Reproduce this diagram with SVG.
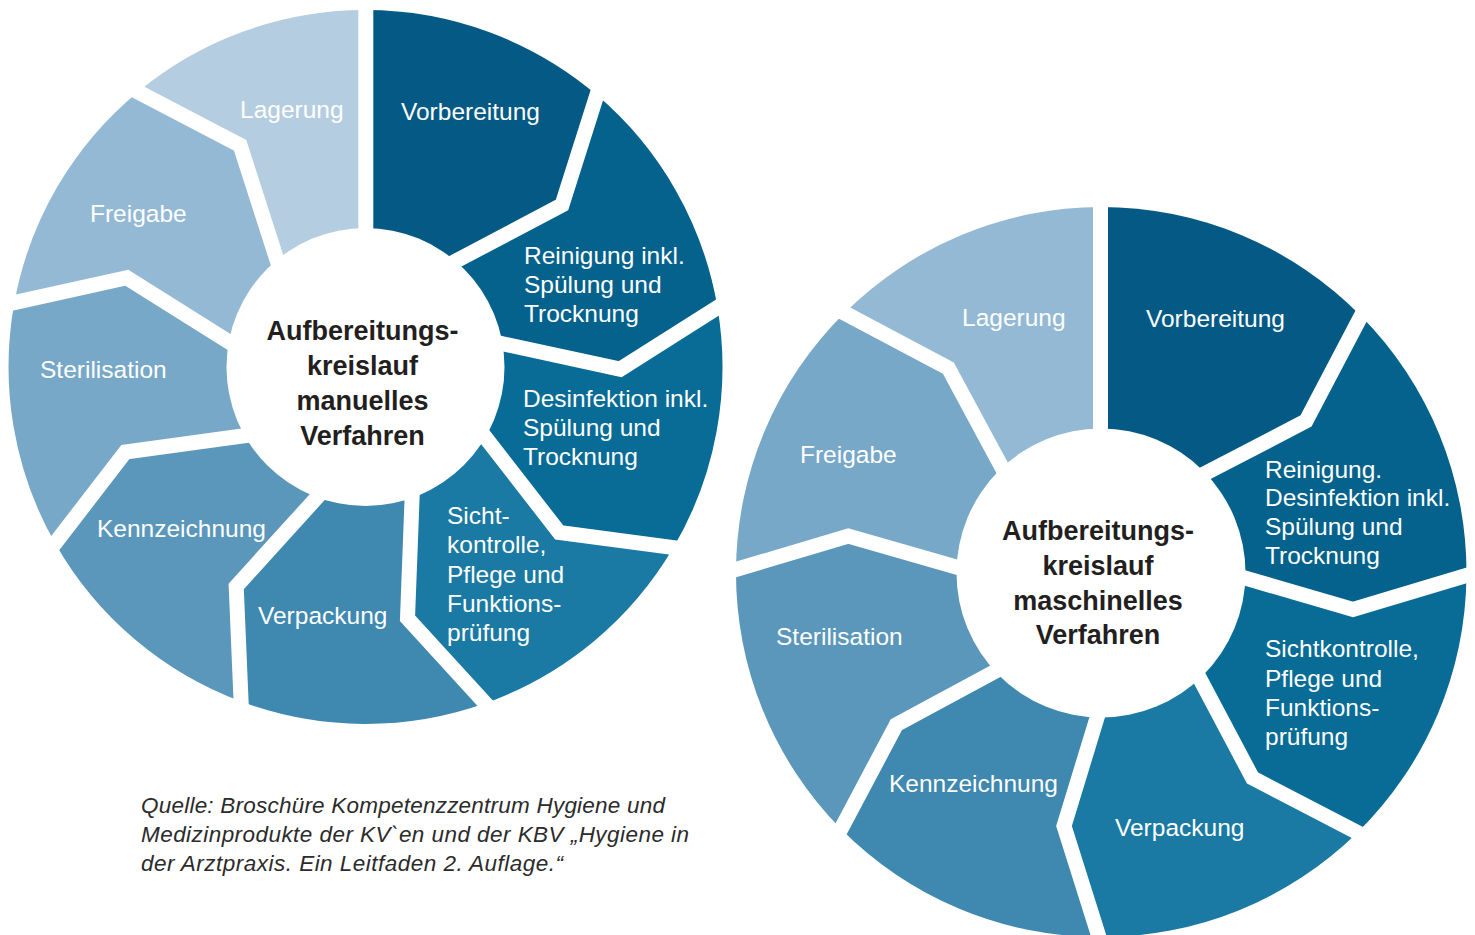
<svg xmlns="http://www.w3.org/2000/svg" width="1475" height="935" viewBox="0 0 1475 935">
<style>
.lbl{font-family:"Liberation Sans",Arial,sans-serif;font-size:24.5px;fill:#ffffff}
.ctr{font-family:"Liberation Sans",Arial,sans-serif;font-size:27px;font-weight:bold;fill:#231f20;text-anchor:middle}
.src{font-family:"Liberation Sans",Arial,sans-serif;font-size:22.5px;font-style:italic;fill:#2b2b2b}
.gap{fill:none;stroke:#ffffff;stroke-width:15;stroke-linejoin:miter;stroke-miterlimit:10}
.c1{fill:#045a84}.c2{fill:#04628c}.c3{fill:#086c96}.c4{fill:#1a7aa3}.c5{fill:#3f88b0}.c6{fill:#5a97bb}.c7{fill:#77a8c8}.c8{fill:#94b9d4}.c9{fill:#b4cde0}
</style>
<rect width="1475" height="935" fill="#ffffff"/>

<g id="wheel-manuell">
  <g id="m-vorbereitung"><path class="c1" d="M365.8,228 L365.8,10 A357,357 0 0 1 596.9,95.1 L562,205 L455.6,261.2 Z"/>
    <text class="lbl" x="401" y="120">Vorbereitung</text></g>
  <g id="m-reinigung"><path class="c2" d="M455.6,261.2 L562,205 L596.9,95.1 A357,357 0 0 1 717.5,307.5 L620.2,369.2 L502.6,343.8 Z"/>
    <text class="lbl" x="524" y="263.5">Reinigung inkl.<tspan x="524" y="292.5">Spülung und</tspan><tspan x="524" y="321.5">Trocknung</tspan></text></g>
  <g id="m-desinfektion"><path class="c3" d="M502.6,343.8 L620.2,369.2 L717.5,307.5 A357,357 0 0 1 673.4,547.6 L559.2,532.4 L485.4,437.3 Z"/>
    <text class="lbl" x="523" y="407">Desinfektion inkl.<tspan x="523" y="436">Spülung und</tspan><tspan x="523" y="465">Trocknung</tspan></text></g>
  <g id="m-sichtkontrolle"><path class="c4" d="M485.4,437.3 L559.2,532.4 L673.4,547.6 A357,357 0 0 1 485.3,703.3 L407.5,618.2 L412.1,498 Z"/>
    <text class="lbl" x="447" y="524">Sicht-<tspan x="447" y="553.3">kontrolle,</tspan><tspan x="447" y="582.6">Pflege und</tspan><tspan x="447" y="611.9">Funktions-</tspan><tspan x="447" y="641.2">prüfung</tspan></text></g>
  <g id="m-verpackung"><path class="c5" d="M412.1,498 L407.5,618.2 L485.3,703.3 A357,357 0 0 1 241.1,701.6 L236.2,586.4 L317,497.3 Z"/>
    <text class="lbl" x="258" y="623.5">Verpackung</text></g>
  <g id="m-kennzeichnung"><path class="c6" d="M317,497.3 L236.2,586.4 L241.1,701.6 A357,357 0 0 1 55.1,543.3 L125.4,452 L244.6,435.7 Z"/>
    <text class="lbl" x="97" y="536.5">Kennzeichnung</text></g>
  <g id="m-sterilisation"><path class="c7" d="M244.6,435.7 L125.4,452 L55.1,543.3 A357,357 0 0 1 14.4,302.6 L126.9,277.8 L228.8,341.9 Z"/>
    <text class="lbl" x="40" y="378">Sterilisation</text></g>
  <g id="m-freigabe"><path class="c8" d="M228.8,341.9 L126.9,277.8 L14.4,302.6 A357,357 0 0 1 137.9,91.9 L240.1,145.3 L276.9,259.9 Z"/>
    <text class="lbl" x="90" y="222">Freigabe</text></g>
  <g id="m-lagerung"><path class="c9" d="M276.9,259.9 L240.1,145.3 L137.9,91.9 A357,357 0 0 1 365.8,10 L365.8,228 Z"/>
    <text class="lbl" x="240" y="118">Lagerung</text></g>
  <g id="m-connectors">
    <polyline class="gap" points="365.8,250 365.8,-5"/>
    <polyline class="gap" points="434.3,272.4 562,205 605.6,67.6"/>
    <polyline class="gap" points="479.1,338.7 620.2,369.2 741.8,292.1"/>
    <polyline class="gap" points="470.6,418.3 559.2,532.4 702,551.4"/>
    <polyline class="gap" points="413,474 407.5,618.2 504.8,724.6"/>
    <polyline class="gap" points="333.2,479.5 236.2,586.4 242.3,730.4"/>
    <polyline class="gap" points="268.4,432.4 125.4,452 37.5,566.1"/>
    <polyline class="gap" points="249.2,354.7 126.9,277.8 -13.7,308.8"/>
    <polyline class="gap" points="284.3,282.8 240.1,145.3 112.3,78.5"/>
  </g>
  <g id="m-center"><circle cx="365.5" cy="367" r="139" fill="#ffffff"/>
    <text class="ctr" x="362.5" y="340">Aufbereitungs-<tspan x="362.5" y="375">kreislauf</tspan><tspan x="362.5" y="409.7">manuelles</tspan><tspan x="362.5" y="444.5">Verfahren</tspan></text></g>
</g>

<g id="wheel-maschinell">
  <g id="r-vorbereitung"><path class="c1" d="M1100.5,429 L1100.5,207 A365,365 0 0 1 1361,316 L1306,421 L1206,473 Z"/>
    <text class="lbl" x="1146" y="326.5">Vorbereitung</text></g>
  <g id="r-reinigung"><path class="c2" d="M1206,473 L1306,421 L1361,316 A365,365 0 0 1 1466.5,575.5 L1353,609.5 L1245,578 Z"/>
    <text class="lbl" x="1265" y="477.7">Reinigung.<tspan x="1265" y="506.3">Desinfektion inkl.</tspan><tspan x="1265" y="535">Spülung und</tspan><tspan x="1265" y="563.7">Trocknung</tspan></text></g>
  <g id="r-sichtkontrolle"><path class="c3" d="M1245,578 L1353,609.5 L1466.5,575.5 A365,365 0 0 1 1357.5,832.5 L1252.5,778 L1200,679 Z"/>
    <text class="lbl" x="1265" y="657.3">Sichtkontrolle,<tspan x="1265" y="686.6">Pflege und</tspan><tspan x="1265" y="715.9">Funktions-</tspan><tspan x="1265" y="745.2">prüfung</tspan></text></g>
  <g id="r-verpackung"><path class="c4" d="M1200,679 L1252.5,778 L1357.5,832.5 A365,365 0 0 1 1099,937 L1064,826 L1097,718 Z"/>
    <text class="lbl" x="1115" y="836">Verpackung</text></g>
  <g id="r-kennzeichnung"><path class="c5" d="M1097,718 L1064,826 L1099,937 A365,365 0 0 1 841,829 L896.3,724.7 L994,672 Z"/>
    <text class="lbl" x="889" y="792">Kennzeichnung</text></g>
  <g id="r-sterilisation"><path class="c6" d="M994,672 L896.3,724.7 L841,829 A365,365 0 0 1 736,569.5 L848.3,536 L956,567 Z"/>
    <text class="lbl" x="776" y="645">Sterilisation</text></g>
  <g id="r-freigabe"><path class="c7" d="M956,567 L848.3,536 L736,569.5 A365,365 0 0 1 844.5,313 L948.3,368 L1001.7,467 Z"/>
    <text class="lbl" x="800" y="463">Freigabe</text></g>
  <g id="r-lagerung"><path class="c8" d="M1001.7,467 L948.3,368 L844.5,313 A365,365 0 0 1 1100.5,207 L1100.5,429 Z"/>
    <text class="lbl" x="962" y="326">Lagerung</text></g>
  <g id="r-connectors">
    <polyline class="gap" points="1100.5,450 1100.5,190"/>
    <polyline class="gap" points="1188.3,482.2 1306,421 1375,289.5"/>
    <polyline class="gap" points="1225.8,572.4 1353,609.5 1495.2,566.9"/>
    <polyline class="gap" points="1190.6,661.3 1252.5,778 1384.2,846.3"/>
    <polyline class="gap" points="1102.8,698.9 1064,826 1108,965.6"/>
    <polyline class="gap" points="1011.6,662.5 896.3,724.7 827,855.5"/>
    <polyline class="gap" points="975.3,572.5 848.3,536 707.3,578"/>
    <polyline class="gap" points="1011.2,484.6 948.3,368 818,299"/>
  </g>
  <g id="r-center"><circle cx="1101" cy="573" r="144.5" fill="#ffffff"/>
    <text class="ctr" x="1098" y="540">Aufbereitungs-<tspan x="1098" y="575">kreislauf</tspan><tspan x="1098" y="609.5">maschinelles</tspan><tspan x="1098" y="644">Verfahren</tspan></text></g>
</g>

<g id="quelle">
  <text class="src" x="141" y="813" textLength="524" lengthAdjust="spacing">Quelle: Broschüre Kompetenzzentrum Hygiene und</text>
  <text class="src" x="141" y="842" textLength="548" lengthAdjust="spacing">Medizinprodukte der KV`en und der KBV „Hygiene in</text>
  <text class="src" x="141" y="871" textLength="422" lengthAdjust="spacing">der Arztpraxis. Ein Leitfaden 2. Auflage.“</text>
</g>
</svg>
